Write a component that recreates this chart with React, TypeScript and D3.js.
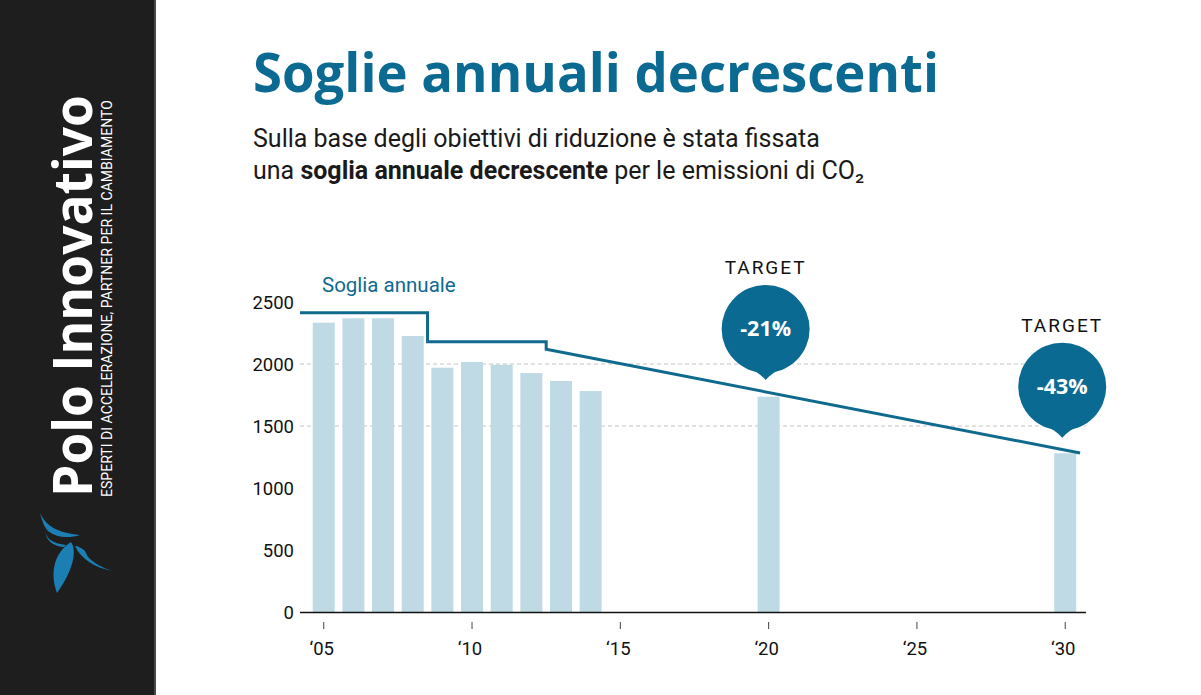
import React, { useEffect } from "react";
import * as d3 from "d3";

const barYears = [2005, 2006, 2007, 2008, 2009, 2010, 2011, 2012, 2013, 2014, 2020, 2030];
const barValues = [2333, 2369, 2369, 2226, 1970, 2016, 1994, 1927, 1863, 1782, 1736, 1280];

const thresholdYears = [2004.2, 2008.5, 2008.5, 2012.5, 2012.5, 2030.5];
const thresholdValues = [2414, 2414, 2180, 2180, 2119, 1282];

const targetYears = [2020, 2030];
const targetLabels = ["-21%", "-43%"];

const yTicks = [0, 500, 1000, 1500, 2000, 2500];
const gridValues = [1500, 2000];
const xTicks = [2005, 2010, 2015, 2020, 2025, 2030];
const xTickLabels = ["\u201805", "\u201810", "\u201815", "\u201820", "\u201825", "\u201830"];

const W = 1201;
const H = 695;
const BLUE = "#0b6a92";
const LINE = "#0f6a8e";
const BAR = "#bfdae4";

export default function App() {
  useEffect(() => {
    document.body.style.margin = "0";
  }, []);

  const x = d3.scaleLinear().domain([2004.2, 2030.7]).range([300, 1086]);
  const y = d3.scaleLinear().domain([0, 2500]).range([612, 302]);
  const barW = 22;

  const lineGen = d3
    .line<number>()
    .x((_, i) => x(thresholdYears[i]))
    .y((v) => y(v));

  const thresholdAt = (yr: number) => {
    for (let i = 0; i < thresholdYears.length - 1; i++) {
      const a = thresholdYears[i], b = thresholdYears[i + 1];
      if (yr >= a && yr <= b && b > a) {
        const t = (yr - a) / (b - a);
        return thresholdValues[i] + t * (thresholdValues[i + 1] - thresholdValues[i]);
      }
    }
    return thresholdValues[thresholdValues.length - 1];
  };

  const bubble = (cx: number, tipY: number) => {
    const r = 44;
    const cy = tipY - 51;
    return (
      <g>
        <circle cx={cx} cy={cy} r={r} fill={BLUE} />
        <path
          d={`M${cx - 18},${cy + 38} Q${cx - 6},${cy + 44} ${cx},${cy + 51} Q${cx + 6},${cy + 44} ${cx + 18},${cy + 38} Z`}
          fill={BLUE}
        />
      </g>
    );
  };

  return (
    <svg width={W} height={H} style={{ display: "block" }} xmlns="http://www.w3.org/2000/svg">
      <rect x={0} y={0} width={W} height={H} fill="#ffffff" />
      {/* Sidebar */}
      <rect x={0} y={0} width={155} height={H} fill="#1e1e1e" />
      <rect x={154} y={0} width={2} height={H} fill="#4a4a4a" />
      <text
        transform="translate(92,497) rotate(-90)"
        fill="#ffffff"
        fontFamily="'Open Sans', sans-serif"
        fontWeight={700}
        fontSize={54}
        textLength={402}
        lengthAdjust="spacingAndGlyphs"
      >
        Polo Innovativo
      </text>
      <text
        transform="translate(112,497) rotate(-90)"
        fill="#ffffff"
        fontFamily="Roboto, sans-serif"
        fontSize={14}
        textLength={397}
        lengthAdjust="spacingAndGlyphs"
      >
        ESPERTI DI ACCELERAZIONE, PARTNER PER IL CAMBIAMENTO
      </text>
      {/* Logo */}
      <g fill="#1b7fb3">
        <path d="M40,513 C46,526 58,533 80,535 C68,539 55,537 48,531 C44,527 42,520 40,513 Z" />
        <path d="M45,528 C45,537 50,543 66,545 L64,547 C52,546 45,540 45,528 Z" />
        <path d="M57,593 C49,572 55,552 71,542 C77,550 74,569 57,593 Z" />
        <path d="M75,546 C81,559 95,568 113,571 C102,568 94,563 88,557 L85,551 C82,548 78,546 75,546 Z" />
      </g>

      {/* Title */}
      <text
        x={253}
        y={92}
        fill={BLUE}
        fontFamily="'Open Sans', sans-serif"
        fontWeight={700}
        fontSize={53}
        textLength={686}
        lengthAdjust="spacingAndGlyphs"
      >
        Soglie annuali decrescenti
      </text>
      <text x={253} y={147} fill="#1a1a1a" fontFamily="Roboto, sans-serif" fontSize={25}>
        Sulla base degli obiettivi di riduzione è stata fissata
      </text>
      <text x={253} y={179} fill="#1a1a1a" fontFamily="Roboto, sans-serif" fontSize={25}>
        una <tspan fontWeight={700}>soglia annuale decrescente</tspan> per le emissioni di CO₂
      </text>

      {/* Grid */}
      {gridValues.map((v) => (
        <line
          key={v}
          x1={300}
          x2={1086}
          y1={y(v)}
          y2={y(v)}
          stroke="#c4c4c4"
          strokeDasharray="4,3"
          strokeWidth={1}
        />
      ))}

      {/* Y tick labels */}
      {yTicks.map((v) => (
        <text
          key={v}
          x={294}
          y={y(v) + 6.5}
          textAnchor="end"
          fill="#111"
          fontFamily="Roboto, sans-serif"
          fontSize={18.5}
        >
          {v}
        </text>
      ))}

      {/* Bars */}
      {barYears.map((yr, i) => (
        <rect
          key={yr}
          x={x(yr) - barW / 2}
          y={y(barValues[i])}
          width={barW}
          height={y(0) - y(barValues[i])}
          fill={BAR}
        />
      ))}

      {/* Axis */}
      <line x1={300} x2={1086} y1={y(0) + 0.5} y2={y(0) + 0.5} stroke="#111" strokeWidth={1.5} />
      {xTicks.map((t, i) => (
        <g key={t}>
          <line x1={x(t)} x2={x(t)} y1={622} y2={629} stroke="#444" strokeWidth={1} />
          <text
            x={x(t) - 2}
            y={655}
            textAnchor="middle"
            fill="#111"
            fontFamily="Roboto, sans-serif"
            fontSize={18.5}
          >
            {xTickLabels[i]}
          </text>
        </g>
      ))}

      {/* Threshold line */}
      <path d={lineGen(thresholdValues) || ""} fill="none" stroke={LINE} strokeWidth={3} />
      <text x={322} y={292} fill={LINE} fontFamily="Roboto, sans-serif" fontSize={20.5}>
        Soglia annuale
      </text>

      {/* Targets */}
      {targetYears.map((yr, i) => {
        const cx = x(yr) - 3;
        const tipY = y(thresholdAt(yr)) - 12.5;
        const cy = tipY - 51;
        return (
          <g key={yr}>
            {bubble(cx, tipY)}
            <text
              x={cx}
              y={cy + 7}
              textAnchor="middle"
              fill="#ffffff"
              fontFamily="'Open Sans', sans-serif"
              fontWeight={700}
              fontSize={21.5}
            >
              {targetLabels[i]}
            </text>
            <text
              x={cx}
              y={cy - 55}
              textAnchor="middle"
              fill="#111"
              fontFamily="Roboto, sans-serif"
              fontSize={19}
              letterSpacing={2}
            >
              TARGET
            </text>
          </g>
        );
      })}
    </svg>
  );
}
